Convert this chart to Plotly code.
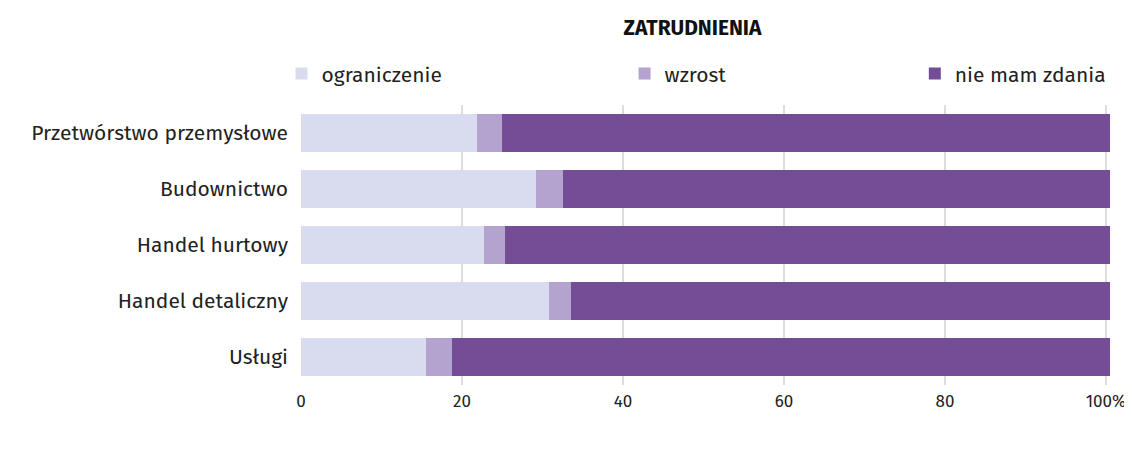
import plotly.graph_objects as go

categories = ["Przetwórstwo przemysłowe", "Budownictwo", "Handel hurtowy", "Handel detaliczny", "Usługi"]
ograniczenie = [21.9, 29.2, 22.7, 30.8, 15.5]
wzrost = [3.1, 3.3, 2.6, 2.8, 3.3]
nie_mam_zdania = [75.5, 68.0, 75.2, 66.9, 81.7]
tick_vals = [0, 20, 40, 60, 80, 100]
tick_text = ["0", "20", "40", "60", "80", "100%"]

FONT = "Fira Sans, Open Sans, Noto Sans, sans-serif"
series = [
    ("ograniczenie", ograniczenie, "#d9dbef", "legend", -0.024),
    ("wzrost", wzrost, "#b4a2cf", "legend2", 0.398),
    ("nie mam zdania", nie_mam_zdania, "#744d96", "legend3", 0.755),
]

fig = go.Figure()
for name, vals, color, leg, _ in series:
    fig.add_trace(go.Bar(
        y=categories, x=vals, name=name, orientation="h",
        marker=dict(color=color, line=dict(width=0)),
        legend=leg,
    ))

legend_common = dict(orientation="h", y=1.111, yanchor="middle", xanchor="left",
                     font=dict(family=FONT, size=21, color="#222"),
                     bgcolor="rgba(0,0,0,0)", itemwidth=30, borderwidth=0)
layout_legends = {}
for name, vals, color, leg, xpos in series:
    layout_legends[leg] = dict(legend_common, x=xpos)

# page body has an 8px default margin; figure sized to fill the remaining window
fig.update_layout(
    barmode="stack",
    bargap=0.33,
    width=1124, height=453,
    margin=dict(l=293, r=18, t=97, b=76),
    paper_bgcolor="white", plot_bgcolor="white",
    title=dict(text="<b>ZATRUDNIENIA</b>", x=0.609, xanchor="center", y=0.956, yanchor="middle",
               font=dict(family=FONT, size=21, color="#111")),
    font=dict(family=FONT, color="#222"),
    showlegend=True,
    **layout_legends,
)
fig.update_xaxes(range=[0, 101], tickvals=tick_vals, ticktext=tick_text, automargin=False,
                 showgrid=True, gridcolor="#dddddd", gridwidth=1.5, zeroline=False,
                 tickfont=dict(family=FONT, size=17, color="#222"), ticks="", ticklabelstandoff=4)
fig.update_yaxes(autorange="reversed", showgrid=False, automargin=False,
                 tickfont=dict(family=FONT, size=21, color="#222"), ticklabelstandoff=12)

fig.write_html("out.html")
